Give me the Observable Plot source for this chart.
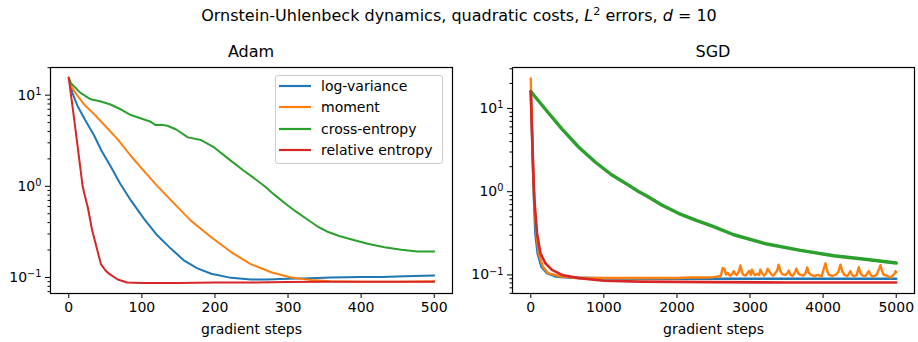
<!DOCTYPE html>
<html><head><meta charset="utf-8">
<script src="https://cdn.jsdelivr.net/npm/d3@7"></script>
<script src="https://cdn.jsdelivr.net/npm/@observablehq/plot@0.6"></script>
<style>
body{margin:0;background:#fff;font-family:"DejaVu Sans",sans-serif;}
#fig{position:relative;width:918px;height:342px;overflow:hidden;background:#fff;}
.t{position:absolute;white-space:nowrap;color:#000;transform:translate(-50%,-50%);line-height:1;}
.sup{font-size:0.7em;position:relative;top:-0.55em;}
#legend{position:absolute;left:275px;top:75px;width:166px;height:87px;border:1px solid #ccc;border-radius:3px;background:rgba(255,255,255,0.8);}
.lg{position:absolute;font-size:14px;color:#000;white-space:nowrap;line-height:1;transform:translateY(-50%);}
</style></head><body><div id="fig"></div>
<script>
const seriesNames = ["log-variance", "moment", "cross-entropy", "relative entropy"];
const seriesColors = ["#1f77b4", "#ff7f0e", "#2ca02c", "#d62728"];

// ---- Adam panel ----
const adamLogVarSteps = [0,5,12,22,34,45,57,70,85,103,121,140,158,176,195,222,249,272,300,330,359,400,428,460,500];
const adamLogVarVals  = [15.5,10.6,7.6,5.4,3.7,2.44,1.67,1.08,0.70,0.44,0.29,0.206,0.153,0.126,0.11,0.099,0.095,0.095,0.097,0.098,0.1,0.101,0.101,0.103,0.105];
const adamMomentSteps = [0,3,12,21,35,48,67,85,103,121,140,167,195,222,249,277,304,332,359,400,450,500];
const adamMomentVals  = [15.5,12.6,9.8,7.9,6.15,4.77,3.27,2.15,1.47,1.01,0.70,0.42,0.276,0.19,0.14,0.114,0.10,0.094,0.091,0.090,0.090,0.091];
const adamCrossSteps = [0,3,16,30,44,57,71,85,99,112,119,126,135,147,163,181,199,222,240,254,268,282,297,312,327,341,355,370,386,409,432,455,477,500];
const adamCrossVals  = [15.5,13.5,10.6,9.0,8.5,7.9,7.0,6.05,5.55,5.1,4.7,4.74,4.62,4.2,3.44,3.22,2.67,1.9,1.47,1.22,1.0,0.8,0.64,0.52,0.43,0.36,0.315,0.285,0.262,0.234,0.215,0.201,0.193,0.193];
const adamRelSteps = [0,8,19,21,26,32,39,44,50,55,67,80,100,150,200,250,300,350,400,450,500];
const adamRelVals  = [15.5,5.0,1.0,0.85,0.59,0.33,0.2,0.14,0.12,0.11,0.095,0.088,0.087,0.087,0.088,0.088,0.089,0.09,0.09,0.09,0.09];

// ---- SGD panel ----
const sgdLogVarSteps = [0,18,30,45,64,95,146,223,337,500,1000,2000,3000,4000,5000];
const sgdLogVarVals  = [16,4.9,2.0,0.79,0.315,0.182,0.126,0.105,0.096,0.093,0.091,0.09,0.09,0.09,0.09];
const sgdMomentSteps = [0,18,32,47,77,109,164,237,382,600,1000,1500,2000,2200,2400,2500,2560,
  2600,2625,2650,2670,2693,2715,2730,2760,2776,2800,2820,2850,2867,2890,2910,2940,2960,2990,3010,3027,3050,3070,3100,3125,3141,3165,3190,3220,3241,3270,3300,3320,3340,3370,3392,3415,3440,
  3480,3510,3529,3555,3580,3610,3634,3660,3690,3730,3760,3781,3805,3830,3880,3930,3980,4010,4032,4055,4080,4130,4180,4210,4237,4260,4290,4330,4355,4374,4395,4420,
  4460,4488,4510,4540,4580,4605,4625,4650,4680,4730,4765,4785,4805,4830,4870,4922,4960,4980,4990,5000];
const sgdMomentVals  = [23,4.9,2.0,0.79,0.315,0.182,0.126,0.105,0.097,0.092,0.092,0.092,0.092,0.093,0.093,0.094,0.096,
  0.097,0.121,0.118,0.101,0.106,0.1,0.098,0.104,0.111,0.102,0.1,0.112,0.13,0.108,0.1,0.098,0.104,0.112,0.1,0.116,0.104,0.099,0.103,0.1,0.116,0.105,0.098,0.104,0.119,0.108,0.1,0.098,0.104,0.112,0.133,0.112,0.102,
  0.1,0.104,0.113,0.1,0.097,0.105,0.119,0.104,0.1,0.098,0.105,0.123,0.106,0.101,0.097,0.1,0.096,0.12,0.138,0.112,0.1,0.097,0.102,0.11,0.133,0.112,0.1,0.097,0.104,0.111,0.1,0.096,
  0.1,0.124,0.105,0.098,0.097,0.104,0.111,0.1,0.095,0.1,0.118,0.131,0.112,0.1,0.098,0.093,0.1,0.104,0.111,0.108];
const sgdCrossSteps = [0,200,428,657,885,1100,1342,1479,1570,1798,2027,2255,2484,2776,3232,3689,4146,4603,5000];
const sgdCrossVals  = [16,9.8,5.66,3.42,2.26,1.61,1.19,1.0,0.906,0.688,0.546,0.455,0.386,0.304,0.235,0.197,0.17,0.153,0.139];
const sgdRelSteps = [0,18,32,50,86,132,200,290,428,657,1000,1500,2500,3500,5000];
const sgdRelVals  = [16,4.9,1.97,0.79,0.315,0.182,0.138,0.115,0.1,0.0915,0.085,0.083,0.082,0.081,0.081];

// ---- axes ticks ----
const adamXTicks = [0,100,200,300,400,500];
const sgdXTicks = [0,1000,2000,3000,4000,5000];
const yMajorTicks = [0.1, 1, 10];
const yMajorLabels = ["10^−1", "10^0", "10^1"];
const yMinorTicks = [0.06,0.07,0.08,0.09,0.2,0.3,0.4,0.5,0.6,0.7,0.8,0.9,2,3,4,5,6,7,8,9,20,30];

function rows(steps, vals) { return steps.map((s, i) => ({step: s, value: vals[i]})); }

function panel({series, xDomain, yDomain, xTicks, marginLeft, marginRight, widths}) {
  const svg = Plot.plot({
    width: 459, height: 282,
    marginLeft, marginRight, marginTop: 7, marginBottom: 49,
    style: {fontFamily: "DejaVu Sans, sans-serif", fontSize: "14px", color: "#000", background: "transparent", overflow: "visible"},
    x: {domain: xDomain},
    y: {type: "log", domain: yDomain},
    marks: [
      Plot.axisX({ticks: xTicks, tickSize: 5, tickPadding: 4, tickFormat: d => String(d),
        label: "gradient steps", labelAnchor: "center", labelArrow: "none", labelOffset: 40}),
      Plot.axisY({ticks: yMajorTicks, tickSize: 5, tickPadding: 4,
        tickFormat: d => yMajorLabels[yMajorTicks.indexOf(d)], label: null}),
      Plot.axisY({ticks: yMinorTicks.filter(v => v >= yDomain[0] && v <= yDomain[1]), tickSize: 2.5, tickFormat: () => "", label: null}),
      ...series.map((s, i) => Plot.line(s, {x: "step", y: "value", stroke: seriesColors[i], strokeWidth: widths[i], strokeLinejoin: "round"})),
      Plot.frame({stroke: "#000", strokeWidth: 1.2})
    ]
  });
  const ns = "http://www.w3.org/2000/svg";
  svg.querySelectorAll('g[aria-label="y-axis tick label"] text').forEach(t => {
    const s = t.textContent; const parts = s.split("^");
    if (parts.length < 2) return;
    t.textContent = "";
    const a = document.createElementNS(ns, "tspan"); a.textContent = parts[0]; t.appendChild(a);
    const b = document.createElementNS(ns, "tspan"); b.setAttribute("dy", "-0.5em"); b.setAttribute("font-size", "0.7em"); b.textContent = parts[1]; t.appendChild(b);
  });
  return svg;
}

const fig = document.getElementById("fig");

const adam = panel({
  series: [rows(adamLogVarSteps, adamLogVarVals), rows(adamMomentSteps, adamMomentVals), rows(adamCrossSteps, adamCrossVals), rows(adamRelSteps, adamRelVals)],
  xDomain: [-25, 525], yDomain: [0.0667, 20.1], xTicks: adamXTicks, marginLeft: 50, marginRight: 7, widths: [2, 2, 2, 2]
});
adam.style.position = "absolute"; adam.style.left = "0px"; adam.style.top = "60px";
fig.appendChild(adam);

const sgd = panel({
  series: [rows(sgdLogVarSteps, sgdLogVarVals), rows(sgdMomentSteps, sgdMomentVals), rows(sgdCrossSteps, sgdCrossVals), rows(sgdRelSteps, sgdRelVals)],
  xDomain: [-250, 5250], yDomain: [0.0598, 31.1], xTicks: sgdXTicks, marginLeft: 53, marginRight: 4, widths: [2.6, 2.4, 3.4, 2.6]
});
sgd.style.position = "absolute"; sgd.style.left = "459px"; sgd.style.top = "60px";
fig.appendChild(sgd);

// titles
function addText(html, x, y, size) {
  const d = document.createElement("div"); d.className = "t"; d.innerHTML = html;
  d.style.left = x + "px"; d.style.top = y + "px"; d.style.fontSize = size + "px";
  fig.appendChild(d);
}
addText('Ornstein-Uhlenbeck dynamics, quadratic costs, <i>L</i><span class="sup">2</span> errors, <i>d</i> = 10', 459, 16, 16);
addText("Adam", 251, 52, 16);
addText("SGD", 713, 52, 16);

// legend
const lg = document.createElement("div"); lg.id = "legend"; fig.appendChild(lg);
const rowY = [86, 107, 129, 150];
seriesNames.forEach((name, i) => {
  const sw = document.createElementNS("http://www.w3.org/2000/svg", "svg");
  sw.setAttribute("width", 34); sw.setAttribute("height", 6);
  sw.style.position = "absolute"; sw.style.left = "278px"; sw.style.top = (rowY[i] - 3) + "px";
  sw.innerHTML = `<line x1="1" x2="33" y1="3" y2="3" stroke="${seriesColors[i]}" stroke-width="2.2"/>`;
  fig.appendChild(sw);
  const t = document.createElement("div"); t.className = "lg"; t.textContent = name;
  t.style.left = "321px"; t.style.top = rowY[i] + "px";
  fig.appendChild(t);
});
</script></body></html>
